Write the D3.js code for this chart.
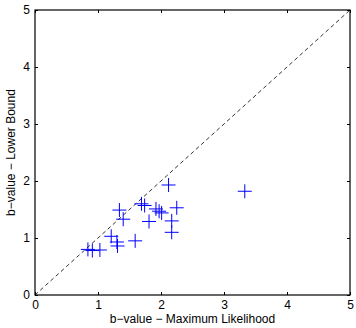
<!DOCTYPE html>
<html>
<head>
<meta charset="utf-8">
<script src="https://cdn.jsdelivr.net/npm/d3@7"></script>
<style>
  body { margin: 0; background: #fff; }
  svg text { font-family: "Liberation Sans", Arial, sans-serif; }
</style>
</head>
<body>
<div id="chart"></div>
<script>
// b-value estimates: maximum likelihood (x) vs lower bound (y)
var bML = [3.33, 2.12, 1.34, 1.69, 1.74, 1.92, 1.97, 2.01, 2.25, 1.40, 1.81, 2.17, 2.17, 1.21, 1.30, 1.31, 1.59, 0.84, 0.91, 1.03];
var bLB = [1.82, 1.93, 1.49, 1.60, 1.57, 1.51, 1.47, 1.44, 1.53, 1.33, 1.29, 1.30, 1.10, 1.03, 0.93, 0.86, 0.95, 0.80, 0.78, 0.79];
var tickVals = [0, 1, 2, 3, 4, 5];
var diagonal = [0, 5];

var W = 356, H = 328;
var margin = {top: 10, right: 6, bottom: 33, left: 35};

var svg = d3.select('#chart').append('svg')
	.attr('width', W)
	.attr('height', H);

var x = d3.scaleLinear().domain([0, 5]).range([margin.left, W - margin.right]);
var y = d3.scaleLinear().domain([0, 5]).range([H - margin.bottom, margin.top]);

var points = bML.map(function(d, i){ return {x: d, y: bLB[i]}; });

// dashed 1:1 line
svg.append('line')
	.attr('x1', x(diagonal[0])).attr('y1', y(diagonal[0]))
	.attr('x2', x(diagonal[1])).attr('y2', y(diagonal[1]))
	.attr('stroke', '#000')
	.attr('stroke-width', 0.8)
	.attr('stroke-dasharray', '4,3');

// plus markers
var m = 7;
var plus = svg.append('g').selectAll('path')
	.data(points)
	.enter()
	.append('path')
	.attr('d', function(d){
		var cx = x(d.x), cy = y(d.y);
		return 'M' + (cx - m) + ',' + cy + 'H' + (cx + m) + 'M' + cx + ',' + (cy - m) + 'V' + (cy + m);
	})
	.attr('stroke', '#0000ff')
	.attr('stroke-width', 1)
	.attr('fill', 'none');

// axes, MATLAB style ticks inside on all sides
function styleAxis(g){
	g.select('.domain').remove();
	g.selectAll('text').attr('font-size', '12px').attr('fill', '#000');
	g.selectAll('line').attr('stroke', '#000');
}

svg.append('g')
	.attr('transform', 'translate(0,' + y(0) + ')')
	.call(d3.axisBottom(x).tickValues(tickVals).tickSize(-3).tickPadding(5).tickFormat(d3.format('d')))
	.call(styleAxis);

svg.append('g')
	.attr('transform', 'translate(0,' + y(5) + ')')
	.call(d3.axisTop(x).tickValues(tickVals).tickSize(-3).tickFormat(''))
	.call(styleAxis);

svg.append('g')
	.attr('transform', 'translate(' + x(0) + ',0)')
	.call(d3.axisLeft(y).tickValues(tickVals).tickSize(-3).tickPadding(5).tickFormat(d3.format('d')))
	.call(styleAxis);

svg.append('g')
	.attr('transform', 'translate(' + x(5) + ',0)')
	.call(d3.axisRight(y).tickValues(tickVals).tickSize(-3).tickFormat(''))
	.call(styleAxis);

// box
svg.append('rect')
	.attr('x', x(0)).attr('y', y(5))
	.attr('width', x(5) - x(0))
	.attr('height', y(0) - y(5))
	.attr('fill', 'none')
	.attr('stroke', '#000')
	.attr('stroke-width', 1.2);

svg.append('text')
	.attr('x', (x(0) + x(5)) / 2)
	.attr('y', H - 5)
	.attr('text-anchor', 'middle')
	.attr('font-size', '12px')
	.text('b\u2212value \u2212 Maximum Likelihood');

svg.append('text')
	.attr('transform', 'translate(15,' + ((y(0) + y(5)) / 2) + ') rotate(-90)')
	.attr('text-anchor', 'middle')
	.attr('font-size', '12px')
	.text('b\u2212value \u2212 Lower Bound');
</script>
</body>
</html>
